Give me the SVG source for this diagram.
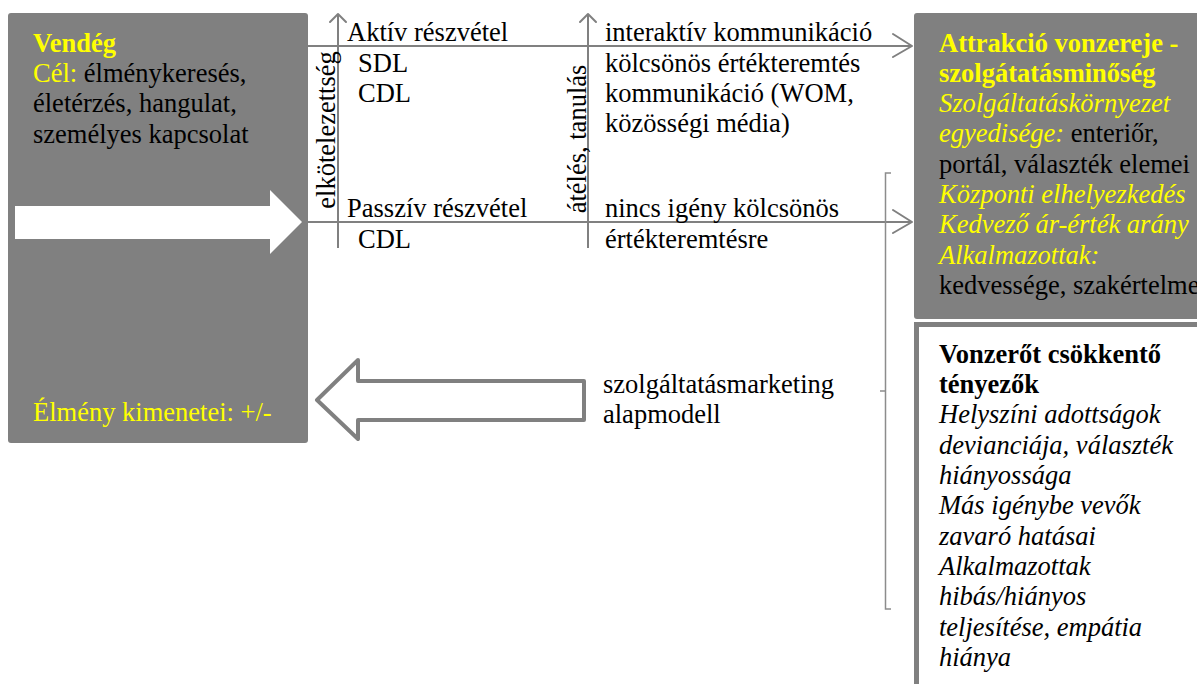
<svg xmlns="http://www.w3.org/2000/svg" width="1197" height="684" viewBox="0 0 1197 684" font-family="'Liberation Serif', 'DejaVu Serif', serif">
<defs>
<style>
text{font-family:'Liberation Serif','DejaVu Serif',serif;font-size:26.5px;fill:#000}
.y{fill:#FFFF00}
.b{font-weight:bold}
.i{font-style:italic}
.box{fill:#808080}
.ln{stroke:#808080;stroke-width:2;fill:none}
.ah{stroke:#808080;stroke-width:2;fill:none;stroke-linecap:round;stroke-linejoin:round}
.br{stroke:#8c8c8c;stroke-width:1.5;fill:none}
</style>
</defs>
<rect width="1197" height="684" fill="#fff"/>

<g id="vendeg">
<rect class="box" x="8" y="13" width="300" height="430" rx="3"/>
<polygon points="15,206 270,206 270,190 302,222 270,254 270,239 15,239" fill="#fff"/>
<text x="33" y="52" class="y b">Vendég</text>
<text x="33" y="82"><tspan class="y">Cél:</tspan> élménykeresés,</text>
<text x="33" y="112">életérzés, hangulat,</text>
<text x="33" y="143">személyes kapcsolat</text>
<text x="33" y="421" class="y">Élmény kimenetei: +/-</text>
</g>

<g id="connectors">
<line class="ln" x1="308" y1="46" x2="912" y2="46"/>
<polyline class="ah" points="893,34 912,46 893,57"/>
<line class="ln" x1="308" y1="222" x2="912" y2="222"/>
<polyline class="ah" points="893,210 912,222 893,233"/>
<line class="ln" x1="338" y1="14" x2="338" y2="248"/>
<polyline class="ah" points="330,22 338,14 346,22"/>
<line class="ln" x1="588" y1="14" x2="588" y2="248"/>
<polyline class="ah" points="580,22 588,14 596,22"/>
<path class="br" d="M891,173 H885.5 V609 H891 M885.5,391 H880"/>
<polygon points="584,381 358,381 358,360 317,400 358,439 358,420 584,420" fill="#fff" stroke="#808080" stroke-width="4" stroke-linejoin="round"/>
</g>

<g id="reszvetel">
<text x="347" y="41">Aktív részvétel</text>
<text x="358" y="72">SDL</text>
<text x="358" y="102">CDL</text>
<text x="347" y="217">Passzív részvétel</text>
<text x="358" y="248">CDL</text>
<text transform="translate(335,130) rotate(-90)" text-anchor="middle">elkötelezettség</text>
<text transform="translate(586,139) rotate(-90)" text-anchor="middle">átélés, tanulás</text>
</g>

<g id="kommunikacio">
<text x="605" y="41">interaktív kommunikáció</text>
<text x="605" y="72">kölcsönös értékteremtés</text>
<text x="605" y="102">kommunikáció (WOM,</text>
<text x="605" y="132">közösségi média)</text>
<text x="605" y="217">nincs igény kölcsönös</text>
<text x="605" y="248">értékteremtésre</text>
</g>

<g id="alapmodell">
<text x="603" y="393">szolgáltatásmarketing</text>
<text x="603" y="423">alapmodell</text>
</g>

<g id="vonzero">
<rect class="box" x="914" y="13" width="300" height="306" rx="3"/>
<text x="939" y="52" class="y b">Attrakció vonzereje  -</text>
<text x="939" y="82" class="y b">szolgátatásminőség</text>
<text x="939" y="112" class="y i">Szolgáltatáskörnyezet</text>
<text x="939" y="142"><tspan class="y i">egyedisége:</tspan> enteriőr,</text>
<text x="939" y="173">portál, választék elemei</text>
<text x="939" y="203" class="y i">Központi elhelyezkedés</text>
<text x="939" y="233" class="y i">Kedvező ár-érték arány</text>
<text x="939" y="264" class="y i">Alkalmazottak:</text>
<text x="939" y="294">kedvessége, szakértelme</text>
</g>

<g id="csokkento">
<rect x="916.5" y="324.5" width="300" height="400" fill="#fff" stroke="#808080" stroke-width="5"/>
<text x="939" y="363" class="b">Vonzerőt csökkentő</text>
<text x="939" y="393" class="b">tényezők</text>
<text x="939" y="423" class="i">Helyszíni adottságok</text>
<text x="939" y="454" class="i">devianciája, választék</text>
<text x="939" y="484" class="i">hiányossága</text>
<text x="939" y="514" class="i">Más igénybe vevők</text>
<text x="939" y="545" class="i">zavaró hatásai</text>
<text x="939" y="575" class="i">Alkalmazottak</text>
<text x="939" y="605" class="i">hibás/hiányos</text>
<text x="939" y="636" class="i">teljesítése, empátia</text>
<text x="939" y="666" class="i">hiánya</text>
</g>
</svg>
